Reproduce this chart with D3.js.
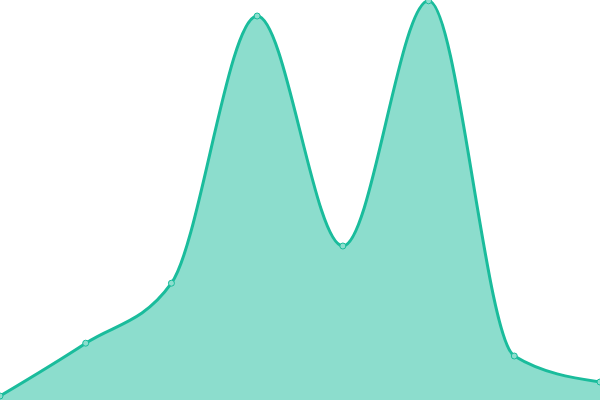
<!DOCTYPE html>
<html>
<head>
<meta charset="utf-8">
<script src="https://cdn.jsdelivr.net/npm/d3@7"></script>
<style>
  body { margin: 0; background: #fff; }
  svg { display: block; }
</style>
</head>
<body>
<svg id="chart"></svg>
<script>
const categories = ["A", "B", "C", "D", "E", "F", "G", "H"];
const values = [1, 14.2, 29.2, 96, 38.5, 99.8, 11, 4.5];

const width = 600;
const height = 400;
const lineColor = "#1abc9c";

const svg = d3.select("#chart")
  .attr("width", width)
  .attr("height", height);

const x = d3.scalePoint()
  .domain(categories)
  .range([0, width]);

const y = d3.scaleLinear()
  .domain([0, 100])
  .range([height, 0]);

const data = categories.map((c, i) => ({ cat: c, value: values[i] }));

// Area fill
const area = d3.area()
  .x((d) => x(d.cat))
  .y0(y(0))
  .y1((d) => y(d.value))
  .curve(d3.curveMonotoneX);

svg.append("path")
  .datum(data)
  .attr("d", area)
  .attr("fill", lineColor)
  .attr("fill-opacity", 0.5);

// Line on top
const line = d3.line()
  .x((d) => x(d.cat))
  .y((d) => y(d.value))
  .curve(d3.curveMonotoneX);

svg.append("path")
  .datum(data)
  .attr("d", line)
  .attr("fill", "none")
  .attr("stroke", lineColor)
  .attr("stroke-width", 3);

// Point markers
svg.selectAll(".dot")
  .data(data)
  .enter()
  .append("circle")
  .attr("class", "dot")
  .attr("cx", (d) => x(d.cat))
  .attr("cy", (d) => y(d.value))
  .attr("r", 3)
  .attr("fill", "#8ddece")
  .attr("stroke", lineColor)
  .attr("stroke-width", 1);
</script>
</body>
</html>
